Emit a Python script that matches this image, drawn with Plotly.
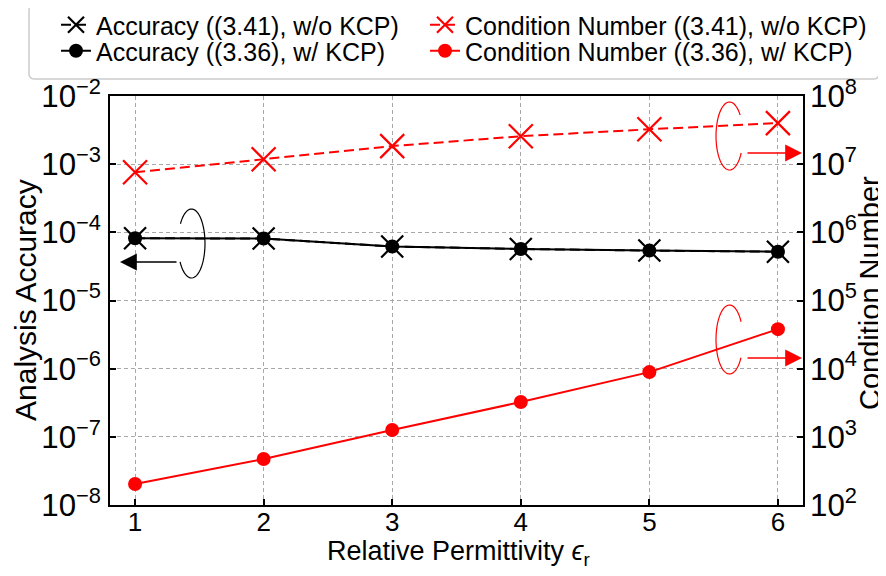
import numpy as np
import plotly.graph_objects as go

# ---------------- data ----------------
eps_r = [1, 2, 3, 4, 5, 6]
acc_wo_kcp = [8.2e-5, 8.1e-5, 6.2e-5, 5.7e-5, 5.4e-5, 5.2e-5]
acc_w_kcp = [8.2e-5, 8.1e-5, 6.2e-5, 5.7e-5, 5.4e-5, 5.2e-5]
cond_wo_kcp = [7.6e6, 1.18e7, 1.84e7, 2.57e7, 3.25e7, 4.0e7]
cond_w_kcp = [203, 472, 1260, 3240, 8900, 3.8e4]
x_ticks = [1, 2, 3, 4, 5, 6]

names = [
    "Accuracy ((3.41), w/o KCP)",
    "Condition Number ((3.41), w/o KCP)",
    "Accuracy ((3.36), w/ KCP)",
    "Condition Number ((3.36), w/ KCP)",
]
x_title = "Relative Permittivity <i>ϵ</i><sub>r</sub>"
y_title = "Analysis Accuracy"
y2_title = "Condition Number"

# ---------------- layout constants ----------------
OFF = 8                      # page body margin of the browser
W, H = 886 - OFF, 576 - OFF  # figure size
# target plot area on screen: x 110..803, y 96..505
L, T = 110 - OFF, 96 - OFF
R, B = W - (803 - OFF), H - (505 - OFF)
PW, PH = W - L - R, H - T - B
FONT = "Liberation Sans, Arial, Helvetica, sans-serif"
RED = "#ff0000"
GRID = "#a8a8a8"


def px2paper(sx, sy):
    fx, fy = sx - OFF, sy - OFF
    return (fx - L) / PW, (H - B - fy) / PH


fig = go.Figure()

fig.add_trace(go.Scatter(
    x=eps_r, y=acc_wo_kcp, name=names[0], mode="lines+markers",
    line=dict(color="black", width=2, dash="10px,5px"),
    marker=dict(symbol="x-thin-open", size=22, color="black",
                line=dict(color="black", width=2.2)),
    yaxis="y", legend="legend"))
fig.add_trace(go.Scatter(
    x=eps_r, y=acc_w_kcp, name=names[2], mode="lines+markers",
    line=dict(color="black", width=2),
    marker=dict(symbol="circle", size=14, color="black"),
    yaxis="y", legend="legend3"))
fig.add_trace(go.Scatter(
    x=eps_r, y=cond_wo_kcp, name=names[1], mode="lines+markers",
    line=dict(color=RED, width=2, dash="10px,5px"),
    marker=dict(symbol="x-thin-open", size=24, color=RED,
                line=dict(color=RED, width=2.2)),
    yaxis="y2", legend="legend2"))
fig.add_trace(go.Scatter(
    x=eps_r, y=cond_w_kcp, name=names[3], mode="lines+markers",
    line=dict(color=RED, width=2),
    marker=dict(symbol="circle", size=14, color=RED),
    yaxis="y2", legend="legend4"))

# ----- rotation ellipses (open arcs) -----
def arc_path(cx, cy, rx, ry, t0, t1, n=60):
    ts = np.radians(np.linspace(t0, t1, n))
    pts = [px2paper(cx + rx * np.cos(t), cy + ry * np.sin(t)) for t in ts]
    return "M " + " L ".join(f"{a:.5f},{b:.5f}" for a, b in pts)


def round_rect(x0, y0, x1, y1, r):
    pts = []
    corners = [(x1 - r, y0 + r, -90, 0), (x1 - r, y1 - r, 0, 90),
               (x0 + r, y1 - r, 90, 180), (x0 + r, y0 + r, 180, 270)]
    for cx, cy, a0, a1 in corners:
        for t in np.radians(np.linspace(a0, a1, 8)):
            pts.append(px2paper(cx + r * np.cos(t), cy + r * np.sin(t)))
    return "M " + " L ".join(f"{a:.5f},{b:.5f}" for a, b in pts) + " Z"


shapes = [
    dict(type="path", xref="paper", yref="paper", layer="below",
         path=round_rect(29, 5, 879, 79, 5), fillcolor="white",
         line=dict(color="#cccccc", width=1.5)),
    dict(type="path", xref="paper", yref="paper",
         path=arc_path(191.5, 243.5, 13.5, 34.5, -145, 148),
         line=dict(color="black", width=1.2)),
    dict(type="path", xref="paper", yref="paper",
         path=arc_path(729.5, 136.0, 13.5, 34.0, 30, 322),
         line=dict(color=RED, width=1.2)),
    dict(type="path", xref="paper", yref="paper",
         path=arc_path(729.5, 339.5, 13.5, 34.5, 32, 329),
         line=dict(color=RED, width=1.2)),
]

annotations = []
for (tipx, tipy, tailx, col) in [(120, 262, 178, "black"),
                                 (802, 153, 746, RED),
                                 (802, 358, 746, RED)]:
    xp, yp = px2paper(tipx, tipy)
    annotations.append(dict(
        x=xp, y=yp, xref="paper", yref="paper", text="",
        showarrow=True, ax=tailx - tipx, ay=0,
        arrowhead=2, arrowsize=2.4, arrowwidth=1.4, arrowcolor=col,
        standoff=0, startstandoff=0))

# axis titles as positioned text
for (txt, sx, sy, ang, size) in [(y_title, 25, 300, -90, 30),
                                 (y2_title, 870, 293, -90, 29),
                                 (x_title, 458, 553, 0, 27)]:
    xp, yp = px2paper(sx, sy)
    annotations.append(dict(
        x=xp, y=yp, xref="paper", yref="paper", text=txt, textangle=ang,
        showarrow=False, xanchor="center", yanchor="middle",
        font=dict(family=FONT, size=size, color="black")))

leg_common = dict(orientation="v", xanchor="left", yanchor="middle",
                  bgcolor="rgba(0,0,0,0)", borderwidth=0,
                  font=dict(family=FONT, size=25, color="black"),
                  itemwidth=30, tracegroupgap=0)
legends = {}
for key, (sx, sy) in zip(["legend", "legend2", "legend3", "legend4"],
                         [(56, 25), (425, 25), (56, 51), (425, 51)]):
    xp, yp = px2paper(sx, sy)
    legends[key] = dict(x=xp, y=yp, **leg_common)

fig.update_layout(
    width=W, height=H,
    margin=dict(l=L, r=R, t=T, b=B, autoexpand=False),
    paper_bgcolor="white", plot_bgcolor="white",
    font=dict(family=FONT, size=25, color="black"),
    showlegend=True,
    **legends,
    xaxis=dict(
        range=[0.805, 6.195], tickmode="array", tickvals=x_ticks,
        ticktext=[str(v) for v in x_ticks],
        ticks="inside", ticklen=6, tickwidth=2, tickcolor="black",
        showline=True, linecolor="black", linewidth=2, mirror=True,
        showgrid=True, gridcolor=GRID, griddash="4px,3px", gridwidth=1,
        zeroline=False, ticklabelstandoff=-7,
        tickfont=dict(size=26),
    ),
    yaxis=dict(
        type="log", range=[-8, -2], dtick=1, exponentformat="power",
        ticks="inside", ticklen=6, tickwidth=2, tickcolor="black",
        showline=True, linecolor="black", linewidth=2,
        showgrid=True, gridcolor=GRID, griddash="4px,3px", gridwidth=1,
        zeroline=False, ticklabelstandoff=2,
    ),
    yaxis2=dict(
        type="log", range=[2, 8], dtick=1, exponentformat="power",
        overlaying="y", side="right",
        ticks="inside", ticklen=6, tickwidth=2, tickcolor="black",
        showline=True, linecolor="black", linewidth=2,
        showgrid=False, zeroline=False, ticklabelstandoff=0,
    ),
    shapes=shapes,
    annotations=annotations,
)

fig.write_html("out.html")
